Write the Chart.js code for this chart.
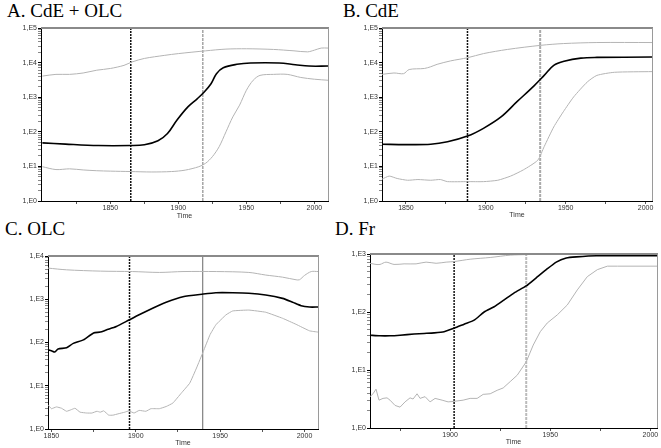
<!DOCTYPE html>
<html><head><meta charset="utf-8">
<script src="https://cdn.jsdelivr.net/npm/chart.js@4.4.1/dist/chart.umd.min.js"></script>
<style>
html,body{margin:0;padding:0;background:#fff;}
body{width:661px;height:448px;position:relative;overflow:hidden;}
canvas{position:absolute;}
.ttl{position:absolute;font-family:"Liberation Serif","Times New Roman",serif;font-size:19px;line-height:19px;color:#000;white-space:nowrap;}
</style></head><body>
<div class="ttl" id="tA" style="left:7px;top:1px"></div>
<div class="ttl" id="tB" style="left:343px;top:1px"></div>
<div class="ttl" id="tC" style="left:5px;top:219px"></div>
<div class="ttl" id="tD" style="left:335px;top:219px"></div>
<canvas id="cA" width="330" height="222" style="left:0;top:0"></canvas>
<canvas id="cB" width="331" height="222" style="left:330px;top:0"></canvas>
<canvas id="cC" width="330" height="223" style="left:0;top:225px"></canvas>
<canvas id="cD" width="331" height="223" style="left:330px;top:225px"></canvas>
<script>
const titles = ['A. CdE + OLC', 'B. CdE', 'C. OLC', 'D. Fr'];
const yDecadeLabels = ['1,E0', '1,E1', '1,E2', '1,E3', '1,E4', '1,E5'];
const xAxisTitle = 'Time';

// ---- Panel A: CdE + OLC ----
const aMedYears = [1800,1817,1841,1865,1875,1885,1892,1899,1907,1914,1919,1924,1928,1933,1943,1953,1974,1986,1996,2010];
const aMedVals  = [48,44,40,40,42,55,89,219,525,912,1410,2450,4790,7080,8910,9770,9770,8710,7940,7940];
const aUpYears  = [1800,1810,1820,1830,1840,1850,1860,1866,1875,1890,1900,1920,1935,1950,1970,1985,1995,2000,2005,2010];
const aUpVals   = [4070,4570,4570,5010,6030,6760,8320,10470,13180,16220,18200,21880,24550,25120,23990,21880,20420,22910,26300,26300];
const aLoYears  = [1800,1810,1820,1830,1840,1850,1865,1880,1895,1905,1915,1920,1925,1930,1935,1940,1945,1950,1955,1960,1970,1980,1990,2000,2010];
const aLoVals   = [9.8,8.1,8.5,7.9,7.5,7.3,7.1,6.9,7.1,7.8,9.8,12.3,19.1,37.2,100,269,589,1585,3090,4270,4570,4570,3720,3310,3090];
const aMarkers  = [1865, 1918];
const aXTicks   = [1825,1850,1875,1900,1925,1950,1975,2000];
const aXRange   = [1799, 2010];
const aYRange   = [1, 1e5];

// ---- Panel B: CdE ----
const bMedYears = [1835,1849.5,1865.5,1876,1888.5,1898.5,1909.5,1919.5,1930,1936.5,1942.5,1949,1959.5,1969.5,2004];
const bMedVals  = [43.6,42.7,43.6,51.3,75,126,269,741,2090,4270,8320,10960,13490,14130,14450];
const bUpYears  = [1835,1842.5,1848.5,1852,1861.5,1865.5,1869.5,1878,1888.5,1898.5,1913.5,1934.5,1948.5,1969.5,2004];
const bUpVals   = [4570,5010,4790,6310,6760,7590,8910,11220,13800,18200,23990,31620,35480,38020,38020];
const bLoYears  = [1835,1839.5,1844.5,1851,1857.5,1865.5,1871.5,1876,1888.5,1898.5,1907.5,1915.5,1923.5,1932.5,1936.5,1942.5,1948.5,1955,1963.5,1969.5,1980.5,2004];
const bLoVals   = [4.27,5.25,4.47,3.98,4.17,3.98,4.17,3.63,3.63,3.63,3.98,5.25,7.94,15.1,37.2,138,380,1023,2754,4266,5248,5495];
const bMarkers  = [1888.5, 1934];
const bXTicks   = [1850,1875,1900,1925,1950,1975,2000];
const bXRange   = [1835, 2004];
const bYRange   = [1, 1e5];

// ---- Panel C: OLC ----
const cMedYears = [1848,1850,1852,1854,1859,1863,1869,1875,1879,1882.5,1888.5,1896,1902,1910,1918,1928,1940,1947.5,1957.5,1967,1977,1987,1993,1998,2003,2008];
const cMedVals  = [67.6,64.6,60.3,70.8,75.9,95.5,115,166,174,195,234,331,437,617,851,1148,1318,1413,1413,1380,1259,1047,851,708,661,661];
const cUpYears  = [1848,1859,1879,1898,1914,1928,1948,1967,1977,1987,1995,1997,2000,2004,2008];
const cUpVals   = [5250,4790,4470,4370,4170,4370,4370,4170,3630,3240,2820,2820,3550,4370,4370];
const cLoYears  = [1848,1850,1853,1856,1859,1862,1864,1867,1871,1874,1877,1879,1881,1884,1886.5,1889.5,1893.5,1896,1899,1902,1906,1909,1914,1918,1922,1927,1932,1936,1940,1944,1947.5,1953.5,1957.5,1967,1977,1987,1995,2003,2008];
const cLoVals   = [3.63,2.95,3.24,3.02,2.57,2.82,3.02,2.45,2.34,2.34,2.57,2.45,2.63,2.09,2.09,2.24,2.45,2.63,2.34,2.69,2.57,2.95,2.95,3.31,3.98,6.76,11.5,25.7,61.7,151,257,437,537,562,501,363,263,186,174];
const cMarkers  = [1896.3, 1939.7];
const cXTicks   = [1850,1875,1900,1925,1950,1975,2000];
const cXRange   = [1848, 2008];
const cYRange   = [1, 1e4];

// ---- Panel D: Fr ----
const dMedYears = [1860,1865,1870,1875,1882,1887,1892,1897,1902,1907,1912,1917,1922,1927,1932,1938,1943,1948,1953,1958,1963,1973,2004];
const dMedVals  = [39.8,38.9,38.9,39.8,41.7,42.7,43.7,45.7,52.5,61.7,72.4,100,123,162,214,282,389,537,724,851,891,933,933];
const dUpYears  = [1860,1863,1865,1868,1872,1877,1883,1888,1893,1898,1902,1910,1920,1930,1938,1943,2004];
const dUpVals   = [692,661,661,724,661,676,676,724,692,724,741,813,871,955,977,1000,1000];
const dLoYears  = [1860,1861.5,1863,1864.5,1866.5,1868.5,1870,1872.5,1875,1877.5,1880,1881.5,1883.5,1885,1887.5,1890,1892.5,1896,1899,1902,1906.5,1910,1913.5,1916.5,1920,1923.5,1926.5,1930,1933.5,1938,1941.5,1945,1948.5,1953.5,1958.5,1963.5,1968.5,1973.5,1978.5,1983.5,2004];
const dLoVals   = [3.47,3.89,4.68,3.02,3.24,3.31,3.02,2.45,2.29,2.82,3.31,3.16,3.89,3.24,3.47,2.82,3.24,3.02,2.82,2.88,3.02,3.24,3.24,3.80,3.89,4.47,4.90,6.31,8.13,13.8,26.9,45.7,64.6,89.1,132,240,407,537,617,617,617];
const dMarkers  = [1902, 1938];
const dXTicks   = [1875,1900,1925,1950,1975,2000];
const dXRange   = [1860, 2003.3];
const dYRange   = [1, 1e3];

// ---------- rendering ----------
const pts = (xs, ys) => xs.map((x, i) => ({x: x, y: ys[i]}));
const isDecade = v => Math.abs(Math.log10(v) - Math.round(Math.log10(v))) < 1e-9;

const framePlugin = {
  id: 'frame',
  afterDatasetsDraw(chart) {
    const {ctx, chartArea: a} = chart;
    ctx.save();
    ctx.strokeStyle = '#8a8a8a'; ctx.lineWidth = 2;
    ctx.beginPath(); ctx.moveTo(a.left, a.top); ctx.lineTo(a.right + 1, a.top); ctx.stroke();
    ctx.strokeStyle = '#9a9a9a'; ctx.lineWidth = 1;
    ctx.beginPath(); ctx.moveTo(a.right + 0.5, a.top); ctx.lineTo(a.right + 0.5, a.bottom); ctx.stroke();
    ctx.restore();
  }
};

function makePanel(id, d, lay) {
  const yMin = d.yRange[0], yMax = d.yRange[1];
  const vline = (x, color, width, dash) => ({
    data: [{x: x, y: yMin}, {x: x, y: yMax}], borderColor: color, borderWidth: width,
    borderDash: dash, pointRadius: 0, tension: 0, order: 5
  });
  const datasets = [
    {data: pts(d.upY, d.upV), borderColor: '#b4b4b4', borderWidth: 1, pointRadius: 0, tension: 0.3, order: 3},
    {data: pts(d.loY, d.loV), borderColor: '#b4b4b4', borderWidth: 1, pointRadius: 0, tension: d.loTension, order: 3},
    vline(d.markers[0], '#111', 1.5, [2, 1]),
    vline(d.markers[1], lay.m2Color, lay.m2Width, lay.m2Dash),
    {data: pts(d.medY, d.medV), borderColor: '#000', borderWidth: 1.6, pointRadius: 0, tension: d.medTension, order: 1}
  ];
  new Chart(document.getElementById(id), {
    type: 'line',
    data: {datasets: datasets},
    plugins: [framePlugin],
    options: {
      responsive: false, animation: false, events: [],
      layout: {padding: {top: lay.top, right: lay.right, left: 0, bottom: 0}},
      plugins: {legend: {display: false}, tooltip: {enabled: false}},
      scales: {
        x: {
          type: 'linear', min: d.xRange[0], max: d.xRange[1],
          afterFit(s) { s.height = lay.xh; },
          afterBuildTicks(s) { s.ticks = d.xTicks.map(v => ({value: v})); },
          ticks: {autoSkip: false, maxRotation: 0, padding: 0, color: '#333',
            font: {family: 'Liberation Sans, Arial, sans-serif', size: 7},
            callback: v => (v % 50 === 0 ? String(v) : '')},
          grid: {drawOnChartArea: false, tickLength: 3, color: '#000', tickColor: '#555'},
          border: {color: '#000', width: 1},
          title: {display: true, text: xAxisTitle, color: '#333',
            font: {family: 'Liberation Sans, Arial, sans-serif', size: 7}, padding: {top: 0, bottom: lay.tpad}}
        },
        y: {
          type: 'logarithmic', min: yMin, max: yMax,
          afterFit(s) { s.width = lay.yw; },
          afterBuildTicks(s) {
            const t = [];
            for (let e = Math.round(Math.log10(yMin)); e <= Math.round(Math.log10(yMax)); e++) {
              for (let m = 1; m <= 9; m++) { const v = m * Math.pow(10, e); if (v <= yMax) t.push({value: v}); }
            }
            s.ticks = t;
          },
          ticks: {autoSkip: false, padding: 1, color: '#333',
            font: {family: 'Liberation Sans, Arial, sans-serif', size: 7},
            callback: v => (isDecade(v) ? yDecadeLabels[Math.round(Math.log10(v))] : '')},
          grid: {drawOnChartArea: false, tickLength: 3,
            tickColor: c => (c.tick && isDecade(c.tick.value) ? '#000' : '#888')},
          border: {color: '#000', width: 1}
        }
      }
    }
  });
}

document.getElementById('tA').textContent = titles[0];
document.getElementById('tB').textContent = titles[1];
document.getElementById('tC').textContent = titles[2];
document.getElementById('tD').textContent = titles[3];

makePanel('cA', {medY: aMedYears, medV: aMedVals, upY: aUpYears, upV: aUpVals, loY: aLoYears, loV: aLoVals,
  markers: aMarkers, xTicks: aXTicks, xRange: aXRange, yRange: aYRange, medTension: 0.35, loTension: 0.3},
  {top: 28, right: 2, yw: 41, xh: 21, tpad: 2, m2Color: '#777', m2Width: 1, m2Dash: [3, 1]});
makePanel('cB', {medY: bMedYears, medV: bMedVals, upY: bUpYears, upV: bUpVals, loY: bLoYears, loV: bLoVals,
  markers: bMarkers, xTicks: bXTicks, xRange: bXRange, yRange: bYRange, medTension: 0.35, loTension: 0.2},
  {top: 28, right: 9, yw: 52, xh: 21, tpad: 3, m2Color: '#aaa', m2Width: 2, m2Dash: [3, 1]});
makePanel('cC', {medY: cMedYears, medV: cMedVals, upY: cUpYears, upV: cUpVals, loY: cLoYears, loV: cLoVals,
  markers: cMarkers, xTicks: cXTicks, xRange: cXRange, yRange: cYRange, medTension: 0.2, loTension: 0.1},
  {top: 31, right: 12, yw: 48, xh: 19, tpad: 1, m2Color: '#666', m2Width: 1, m2Dash: []});
makePanel('cD', {medY: dMedYears, medV: dMedVals, upY: dUpYears, upV: dUpVals, loY: dLoYears, loV: dLoVals,
  markers: dMarkers, xTicks: dXTicks, xRange: dXRange, yRange: dYRange, medTension: 0.2, loTension: 0},
  {top: 29, right: 4, yw: 40, xh: 20, tpad: 2, m2Color: '#bbb', m2Width: 2, m2Dash: [3, 1]});
</script>
</body></html>
